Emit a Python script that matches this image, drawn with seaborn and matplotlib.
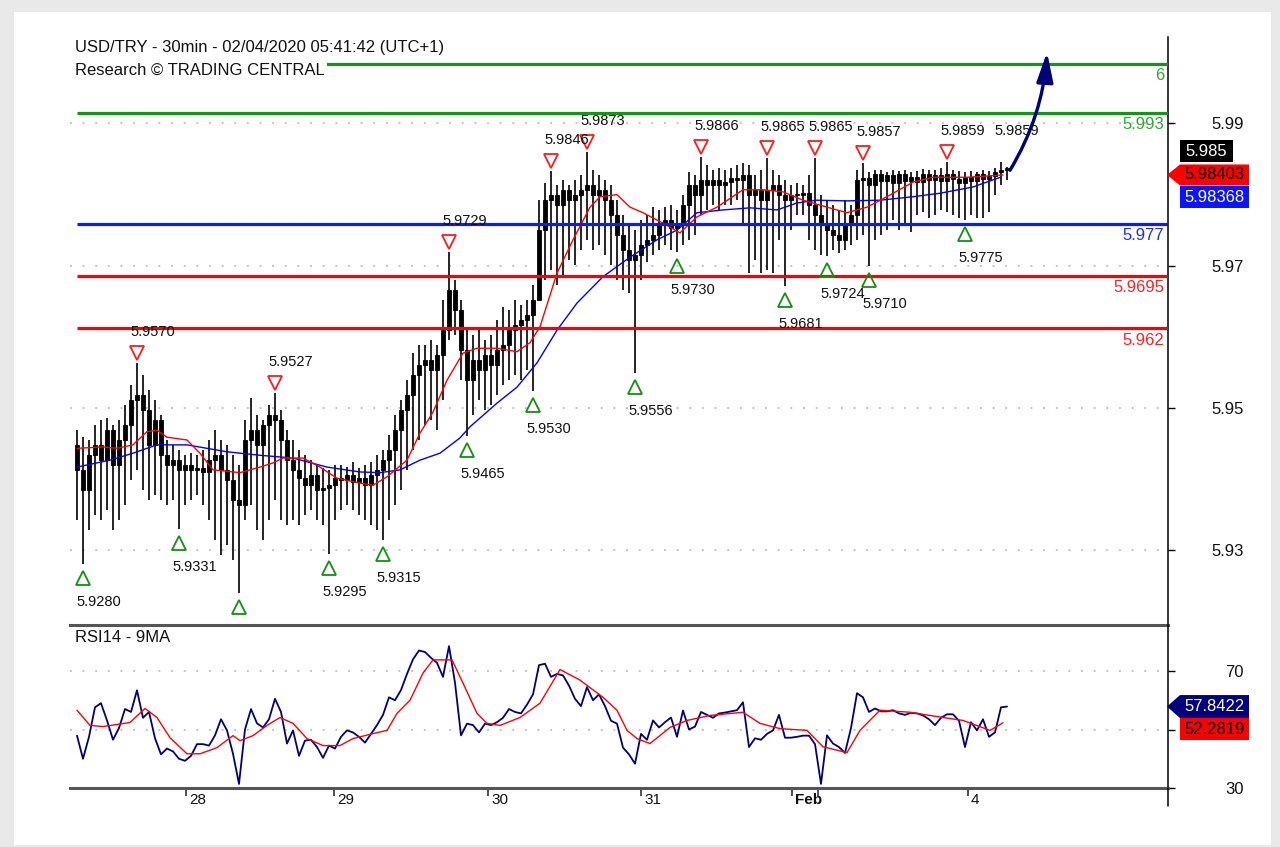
import numpy as np
import matplotlib
matplotlib.use("Agg")
import matplotlib.pyplot as plt
import matplotlib.transforms as mtransforms
from matplotlib.patches import Rectangle, Polygon
from matplotlib.lines import Line2D
import seaborn as sns

# ---------------- data ----------------
title_line1 = "USD/TRY - 30min - 02/04/2020 05:41:42 (UTC+1)"
title_line2 = "Research © TRADING CENTRAL"
rsi_title = "RSI14 - 9MA"

first_open = 5.9452
bar_high = [
    5.9473, 5.9463, 5.9459, 5.9481, 5.9488, 5.9491, 5.9481, 5.9488, 5.9509, 5.9538,
    5.9570, 5.9553, 5.9531, 5.9517, 5.9495, 5.9459, 5.9452, 5.9445, 5.9437, 5.9440,
    5.9437, 5.9445, 5.9459, 5.9473, 5.9459, 5.9452, 5.9437, 5.9423, 5.9488, 5.9519,
    5.9495, 5.9488, 5.9509, 5.9527, 5.9502, 5.9473, 5.9459, 5.9445, 5.9437, 5.9430,
    5.9423, 5.9419, 5.9416, 5.9423, 5.9423, 5.9420, 5.9427, 5.9419, 5.9423, 5.9427,
    5.9437, 5.9445, 5.9466, 5.9495, 5.9517, 5.9545, 5.9584, 5.9596, 5.9596, 5.9603,
    5.9596, 5.9660, 5.9729, 5.9689, 5.9660, 5.9617, 5.9610, 5.9617, 5.9603, 5.9610,
    5.9632, 5.9650, 5.9646, 5.9660, 5.9653, 5.9660, 5.9682, 5.9804, 5.9829, 5.9846,
    5.9826, 5.9833, 5.9826, 5.9833, 5.9840, 5.9873, 5.9847, 5.9840, 5.9833, 5.9826,
    5.9804, 5.9783, 5.9768, 5.9761, 5.9776, 5.9783, 5.9794, 5.9790, 5.9794, 5.9797,
    5.9790, 5.9812, 5.9845, 5.9840, 5.9866, 5.9855, 5.9847, 5.9850, 5.9847, 5.9850,
    5.9855, 5.9858, 5.9855, 5.9840, 5.9847, 5.9865, 5.9847, 5.9840, 5.9833, 5.9826,
    5.9829, 5.9826, 5.9840, 5.9865, 5.9812, 5.9804, 5.9797, 5.9790, 5.9804, 5.9797,
    5.9847, 5.9857, 5.9845, 5.9847, 5.9847, 5.9845, 5.9847, 5.9846, 5.9847, 5.9845,
    5.9846, 5.9849, 5.9847, 5.9847, 5.9850, 5.9859, 5.9847, 5.9846, 5.9845, 5.9846,
    5.9845, 5.9847, 5.9846, 5.9850, 5.9859, 5.9852]
bar_low = [
    5.9344, 5.9280, 5.9329, 5.9351, 5.9344, 5.9358, 5.9329, 5.9344, 5.9365, 5.9401,
    5.9416, 5.9387, 5.9373, 5.9380, 5.9373, 5.9365, 5.9373, 5.9331, 5.9365, 5.9373,
    5.9380, 5.9365, 5.9344, 5.9315, 5.9294, 5.9308, 5.9286, 5.9239, 5.9344, 5.9365,
    5.9329, 5.9315, 5.9344, 5.9373, 5.9344, 5.9337, 5.9344, 5.9337, 5.9351, 5.9358,
    5.9344, 5.9337, 5.9295, 5.9344, 5.9358, 5.9365, 5.9358, 5.9351, 5.9344, 5.9337,
    5.9329, 5.9315, 5.9344, 5.9365, 5.9387, 5.9416, 5.9445, 5.9459, 5.9481, 5.9488,
    5.9473, 5.9517, 5.9603, 5.9610, 5.9545, 5.9465, 5.9495, 5.9517, 5.9502, 5.9509,
    5.9524, 5.9538, 5.9545, 5.9553, 5.9545, 5.9560, 5.9530, 5.9660, 5.9689, 5.9704,
    5.9682, 5.9696, 5.9718, 5.9711, 5.9732, 5.9747, 5.9732, 5.9740, 5.9725, 5.9711,
    5.9689, 5.9675, 5.9671, 5.9556, 5.9689, 5.9715, 5.9725, 5.9732, 5.9740, 5.9732,
    5.9730, 5.9740, 5.9747, 5.9754, 5.9783, 5.9790, 5.9797, 5.9790, 5.9797, 5.9797,
    5.9804, 5.9768, 5.9699, 5.9718, 5.9699, 5.9704, 5.9699, 5.9747, 5.9681, 5.9761,
    5.9783, 5.9783, 5.9747, 5.9732, 5.9725, 5.9724, 5.9732, 5.9728, 5.9732, 5.9740,
    5.9747, 5.9754, 5.9710, 5.9747, 5.9754, 5.9761, 5.9776, 5.9761, 5.9768, 5.9758,
    5.9783, 5.9787, 5.9778, 5.9783, 5.9790, 5.9787, 5.9783, 5.9778, 5.9775, 5.9783,
    5.9778, 5.9778, 5.9787, 5.9812, 5.9826, 5.9833]
bar_close = [
    5.9416, 5.9387, 5.9437, 5.9452, 5.9430, 5.9473, 5.9423, 5.9459, 5.9481, 5.9517,
    5.9524, 5.9502, 5.9452, 5.9488, 5.9437, 5.9423, 5.9430, 5.9416, 5.9423, 5.9416,
    5.9419, 5.9413, 5.9430, 5.9437, 5.9416, 5.9401, 5.9373, 5.9365, 5.9459, 5.9473,
    5.9452, 5.9481, 5.9495, 5.9488, 5.9459, 5.9430, 5.9416, 5.9404, 5.9394, 5.9409,
    5.9387, 5.9390, 5.9394, 5.9404, 5.9401, 5.9409, 5.9399, 5.9404, 5.9394, 5.9409,
    5.9416, 5.9430, 5.9445, 5.9473, 5.9502, 5.9524, 5.9553, 5.9567, 5.9574, 5.9560,
    5.9581, 5.9617, 5.9675, 5.9646, 5.9588, 5.9545, 5.9574, 5.9560, 5.9581, 5.9567,
    5.9588, 5.9596, 5.9617, 5.9624, 5.9632, 5.9639, 5.9660, 5.9761, 5.9804, 5.9812,
    5.9797, 5.9819, 5.9804, 5.9812, 5.9819, 5.9826, 5.9812, 5.9819, 5.9804, 5.9783,
    5.9754, 5.9732, 5.9718, 5.9725, 5.9740, 5.9747, 5.9754, 5.9768, 5.9776, 5.9764,
    5.9768, 5.9797, 5.9826, 5.9812, 5.9833, 5.9826, 5.9833, 5.9826, 5.9830, 5.9836,
    5.9833, 5.9840, 5.9812, 5.9819, 5.9804, 5.9819, 5.9826, 5.9812, 5.9804, 5.9812,
    5.9812, 5.9814, 5.9797, 5.9783, 5.9768, 5.9761, 5.9754, 5.9747, 5.9768, 5.9783,
    5.9833, 5.9836, 5.9826, 5.9842, 5.9831, 5.9840, 5.9829, 5.9841, 5.9832, 5.9838,
    5.9830, 5.9842, 5.9833, 5.9840, 5.9831, 5.9841, 5.9834, 5.9829, 5.9838, 5.9832,
    5.9841, 5.9834, 5.9839, 5.9845, 5.9847, 5.9850]

# moving averages on price (sample position in bar units, value)
ma_fast_x = [0, 4.33, 6.67, 9.33, 11.67, 13.33, 15, 18.33, 20.5, 22.67,
             27.17, 30.5, 32.67, 34.33, 37.67, 40.5, 43.33, 47.17, 49.33, 51.67,
             55, 57.17, 59.33, 61.67, 64.33, 66.67, 70, 73.33, 75.5, 77.17,
             80, 82.67, 85.5, 87.17, 90, 92.17, 94.33, 97.67, 100.5, 103.33,
             106.67, 111, 114.33, 117.67, 121, 125, 128.33, 131.67, 135, 139.33,
             142.67, 148.33, 154.33]
ma_fast = [5.9447, 5.9449, 5.9447, 5.9452, 5.9471, 5.9473, 5.9463, 5.9459, 5.9440, 5.9416,
           5.9412, 5.9420, 5.9426, 5.9433, 5.9433, 5.9420, 5.9404, 5.9397, 5.9394, 5.9406,
           5.9430, 5.9469, 5.9499, 5.9545, 5.9584, 5.9591, 5.9591, 5.9586, 5.9599, 5.9622,
           5.9699, 5.9747, 5.9794, 5.9809, 5.9812, 5.9794, 5.9786, 5.9771, 5.9757, 5.9780,
           5.9794, 5.9819, 5.9819, 5.9816, 5.9804, 5.9794, 5.9786, 5.9794, 5.9809, 5.9830,
           5.9837, 5.9837, 5.98403]
ma_slow_x = [0, 5.5, 9.33, 13.33, 18.33, 25, 30.5, 36, 41.67, 47.17,
             50.5, 53.83, 57.17, 60.5, 63.83, 65.5, 70, 73.33, 76.67, 80,
             83.33, 87.67, 92.17, 96.67, 100, 103.33, 107.67, 112.17, 116.67, 120,
             123.33, 128.33, 133.83, 139.33, 143.83, 149.33, 153.83]
ma_slow = [5.9420, 5.9430, 5.9440, 5.9452, 5.9452, 5.9442, 5.9437, 5.9433, 5.9420, 5.9413,
           5.9412, 5.9416, 5.9430, 5.9440, 5.9462, 5.9478, 5.9512, 5.9535, 5.9570, 5.9617,
           5.9656, 5.9694, 5.9722, 5.9747, 5.9761, 5.9786, 5.9790, 5.9793, 5.9790, 5.9800,
           5.9804, 5.9803, 5.9804, 5.9809, 5.9814, 5.9823, 5.98368]

# RSI(14) per bar and its 9-period average
rsi = [
    47.9, 40.0, 47.5, 57.6, 59.0, 53.1, 46.5, 50.5, 57.0, 56.0,
    63.4, 54.0, 56.0, 47.0, 41.5, 43.5, 42.5, 40.0, 39.3, 41.0,
    45.0, 45.0, 44.5, 48.0, 53.5, 49.7, 41.7, 31.4, 50.0, 57.0,
    52.1, 50.7, 53.5, 60.5, 56.0, 45.2, 49.7, 41.0, 46.2, 46.5,
    44.0, 40.3, 44.5, 43.5, 47.5, 49.7, 49.0, 47.5, 45.5, 48.5,
    51.5, 55.0, 61.0, 60.0, 63.5, 69.0, 74.0, 77.0, 76.5, 74.5,
    72.8, 68.0, 78.5, 66.0, 48.0, 52.0, 51.5, 49.0, 52.0, 51.5,
    52.5, 54.0, 57.0, 56.0, 55.5, 58.5, 62.0, 72.0, 72.5, 68.0,
    69.0, 68.5, 65.0, 60.5, 58.0, 64.5, 60.0, 62.0, 58.0, 53.0,
    52.0, 43.8, 41.5, 38.3, 48.5, 46.5, 53.1, 50.7, 52.5, 54.1,
    47.5, 56.5, 50.0, 51.0, 56.0, 55.0, 54.0, 55.5, 55.8, 56.2,
    56.6, 59.3, 44.0, 47.0, 46.5, 48.5, 49.7, 55.0, 47.2, 47.2,
    47.5, 47.9, 47.9, 45.0, 31.4, 48.0, 45.2, 44.0, 42.0, 50.5,
    62.4, 61.0, 56.0, 57.2, 56.2, 56.2, 56.6, 55.5, 55.0, 55.7,
    55.5, 54.8, 53.5, 51.5, 54.0, 55.2, 55.2, 53.0, 44.0, 52.5,
    49.7, 53.5, 47.5, 49.0, 57.6, 57.8422]
rsi_ma_x = [0, 2.17, 4.33, 8.83, 11.33, 13.33, 15.5, 18.33, 20.5, 23.33,
            26, 27.17, 29.33, 31.67, 33.83, 36, 38.33, 41, 43.83, 46,
            49.33, 51.67, 53.33, 55.5, 57.67, 59.33, 62.5, 64.33, 66.67, 68.33,
            70.5, 73.83, 77.17, 80.5, 83.83, 87.67, 90, 91.67, 93.33, 95.5,
            98.83, 101.67, 105.5, 111, 113.83, 117.17, 121.67, 124.33, 128.33, 130.5,
            133.83, 138.83, 144.33, 147.67, 152.17, 154.33]
rsi_ma = [56.6, 51.4, 51.0, 52.4, 57.2, 54.1, 47.2, 41.7, 41.7, 43.8,
          47.9, 46.2, 47.9, 51.4, 54.1, 52.1, 46.9, 44.5, 44.5, 46.9,
          48.6, 49.7, 55.5, 60.0, 69.3, 73.8, 73.8, 65.9, 55.5, 52.1,
          51.4, 54.1, 59.0, 70.5, 66.9, 61.0, 56.6, 49.7, 46.9, 45.2,
          50.7, 53.1, 54.8, 55.9, 52.1, 50.3, 49.7, 44.1, 42.1, 49.7,
          56.6, 55.9, 54.1, 53.1, 49.7, 52.2819]

# pivots
high_piv_idx = [10, 33, 62, 79, 85, 104, 115, 123, 131, 145, 154]
high_piv_val = [5.9570, 5.9527, 5.9729, 5.9846, 5.9873, 5.9866, 5.9865, 5.9865, 5.9857, 5.9859, 5.9859]
high_piv_marker = [True] * 10 + [False]
low_piv_idx = [1, 17, 27, 42, 51, 65, 76, 93, 100, 118, 125, 132, 148]
low_piv_val = [5.9280, 5.9331, 5.9239, 5.9295, 5.9315, 5.9465, 5.9530, 5.9556, 5.9730, 5.9681, 5.9724, 5.9710, 5.9775]
low_piv_label = ["5.9280", "5.9331", "", "5.9295", "5.9315", "5.9465", "5.9530", "5.9556",
                 "5.9730", "5.9681", "5.9724", "5.9710", "5.9775"]

# key levels
levels = [6.0, 5.993, 5.977, 5.9695, 5.962]
level_labels = ["6", "5.993", "5.977", "5.9695", "5.962"]
level_colors = ["#139613", "#139613", "#0a1cff", "#ff0000", "#ff0000"]
level_text_colors = ["#2fa82f", "#2fa82f", "#1a2cff", "#ff2020", "#ff2020"]

# forecast arrow (bar position, price)
arrow_start = (155.5, 5.9847)
arrow_end = (161.67, 6.0017)

# axis ticks
price_ticks = [5.9300, 5.9505, 5.9710, 5.9915]
price_tick_labels = ["5.93", "5.95", "5.97", "5.99"]
rsi_ticks = [30, 50, 70]
rsi_tick_labels = ["30", "", "70"]
day_tick_pos = [18.17, 42.83, 68.5, 94.0, 119.17, 123.5, 148.5]
day_tick_labels = ["28", "29", "30", "31", "Feb", "", "4"]

last_price = 5.985
ma_fast_last = 5.98403
ma_slow_last = 5.98368
rsi_last = 57.8422
rsi_ma_last = 52.2819

# ---------------- style ----------------
sns.set_style("white")
plt.rcParams['font.family'] = ['Liberation Sans', 'DejaVu Sans']

W, H = 1280, 847
fig = plt.figure(figsize=(W / 100, H / 100), dpi=100)
fig.patch.set_facecolor('#e9e9e9')
fig.add_artist(Rectangle((14 / W, 1 - 845 / H), (1271 - 14) / W, (845 - 12) / H,
                         transform=fig.transFigure, fc='white', ec='none', zorder=-10))

ax = fig.add_axes([70 / W, 1 - 625 / H, 1098 / W, 588 / H])
axr = fig.add_axes([70 / W, 1 - 788 / H, 1098 / W, 163 / H])
for a in (ax, axr):
    a.set_facecolor('none')

n = len(bar_close)
idx = np.arange(n)
closes = np.array(bar_close)
opens = np.array([first_open] + bar_close[:-1])
highs = np.array(bar_high)
lows = np.array(bar_low)

XMIN, XMAX = -7 / 6, 1091 / 6

# grid
for t in price_ticks:
    ax.axhline(t, color='#bcbcbc', lw=1.3, ls=(0, (1, 6)), zorder=1)
for t in [50, 70]:
    axr.axhline(t, color='#bcbcbc', lw=1.3, ls=(0, (1, 6)), zorder=1)

# candles (dense black bars as in the reference)
ax.vlines(idx, lows, highs, color='black', lw=1.2, zorder=3)
bottoms = np.minimum(opens, closes)
heights = np.maximum(np.abs(closes - opens), 0.00012)
ax.bar(idx, heights, bottom=bottoms, width=0.8, color='black',
       edgecolor='black', lw=0.6, zorder=4)

# moving averages
sns.lineplot(x=ma_slow_x, y=ma_slow, ax=ax, color='#0000ff', linewidth=1.0,
             estimator=None, sort=False, zorder=5)
sns.lineplot(x=ma_fast_x, y=ma_fast, ax=ax, color='#ff0000', linewidth=1.0,
             estimator=None, sort=False, zorder=5)

# levels
ax.hlines(levels, 0, XMAX, colors=level_colors, linewidth=2.3, zorder=6)
for v, lab, c in zip(levels, level_labels, level_text_colors):
    ax.annotate(lab, xy=(1, v), xycoords=('axes fraction', 'data'), xytext=(-4, -12),
                textcoords='offset pixels', ha='right', va='center', fontsize=12,
                color=c, zorder=8)

# pivots
tr_hi = mtransforms.offset_copy(ax.transData, fig=fig, x=0, y=10, units='dots')
tr_lo = mtransforms.offset_copy(ax.transData, fig=fig, x=0, y=-14, units='dots')
hx = [i for i, s in zip(high_piv_idx, high_piv_marker) if s]
hy = [v for v, s in zip(high_piv_val, high_piv_marker) if s]
ax.plot(hx, hy, ls='none', marker='v', ms=10.5, mfc='none', mec='#ff1a1a', mew=1.3,
        transform=tr_hi, zorder=7)
ax.plot(low_piv_idx, low_piv_val, ls='none', marker='^', ms=10.5, mfc='none',
        mec='#138f13', mew=1.3, transform=tr_lo, zorder=7)
for i, v in zip(high_piv_idx, high_piv_val):
    ax.annotate(f"{v:.4f}", xy=(i, v), xytext=(-7, 31), textcoords='offset pixels',
                ha='left', va='center', fontsize=10.5, color='#111111', zorder=9)
for i, v, lab in zip(low_piv_idx, low_piv_val, low_piv_label):
    if lab:
        ax.annotate(lab, xy=(i, v), xytext=(-7, -38), textcoords='offset pixels',
                    ha='left', va='center', fontsize=10.5, color='#111111', zorder=9)

# forecast arrow
ax.annotate('', xy=arrow_end, xytext=arrow_start,
            arrowprops=dict(arrowstyle='-|>,head_length=1.8,head_width=0.5',
                            mutation_scale=10, color='#00007a', lw=2.4,
                            shrinkA=0, shrinkB=0, connectionstyle='arc3,rad=0.12'),
            zorder=9)

# titles
ax.annotate(title_line1, xy=(0, 1), xycoords='axes fraction', xytext=(5, -10),
            textcoords='offset pixels', ha='left', va='center', fontsize=12,
            color='#111111', zorder=10)
ax.annotate(title_line2, xy=(0, 1), xycoords='axes fraction', xytext=(5, -33),
            textcoords='offset pixels', ha='left', va='center', fontsize=12,
            color='#111111', zorder=10,
            bbox=dict(boxstyle='square,pad=0.12', fc='white', ec='none'))
axr.annotate(rsi_title, xy=(0, 1), xycoords='axes fraction', xytext=(5, -12),
             textcoords='offset pixels', ha='left', va='center', fontsize=12,
             color='#111111', zorder=10)

# RSI
sns.lineplot(x=idx, y=rsi, ax=axr, color='#00007f', linewidth=1.3,
             estimator=None, sort=False, zorder=4)
sns.lineplot(x=rsi_ma_x, y=rsi_ma, ax=axr, color='#ff0000', linewidth=1.0,
             estimator=None, sort=False, zorder=5)

# axes setup
ax.set_xlim(XMIN, XMAX)
ax.set_ylim(5.91928, 6.00388)
axr.set_xlim(XMIN, XMAX)
axr.set_ylim(30, 85.73)
for a in (ax, axr):
    a.set_xlabel('')
    a.set_ylabel('')
    a.spines['top'].set_visible(False)
    a.spines['left'].set_visible(False)
    a.spines['right'].set_visible(True)
    a.spines['right'].set_color('black')
    a.spines['right'].set_linewidth(1.1)
    a.spines['bottom'].set_visible(True)
    a.spines['bottom'].set_color('#555555')
    a.spines['bottom'].set_linewidth(2.2)
    a.yaxis.tick_right()

ax.set_xticks([])
ax.set_yticks(price_ticks, price_tick_labels)
axr.set_yticks(rsi_ticks, rsi_tick_labels)
for a in (ax, axr):
    a.tick_params(axis='y', which='both', direction='out', length=5, width=1,
                  color='black', pad=49.5, labelsize=12, labelcolor='#111111',
                  right=True, left=False, labelright=True, labelleft=False)
    for t in a.get_yticklabels():
        t.set_horizontalalignment('right')

axr.set_xticks(day_tick_pos)
axr.set_xticklabels([])
axr.tick_params(axis='x', direction='out', length=6, width=1.2, color='#333333',
                bottom=True, labelbottom=False)
for pos, lab in zip(day_tick_pos, day_tick_labels):
    axr.annotate(lab, xy=(pos, 0), xycoords=('data', 'axes fraction'), xytext=(3, -12),
                 textcoords='offset pixels', ha='left', va='center', fontsize=11,
                 fontweight='bold' if lab == 'Feb' else 'normal', color='#111111',
                 annotation_clip=False)

fig.add_artist(Line2D([1168 / W, 1168 / W], [1 - 788 / H, 1 - 806 / H],
                      transform=fig.transFigure, color='black', lw=1.1))

# value boxes on the right
def fx(x):
    return x / W


def fy(yd):
    return yd / H


def add_box(pts, color, text, tcolor):
    fig.add_artist(Polygon([(fx(x), fy(y)) for x, y in pts], closed=True,
                           transform=fig.transFigure, fc=color, ec='none', zorder=20))
    xs = [p[0] for p in pts]
    ys = [p[1] for p in pts]
    x0 = max(min(xs), 1180)
    fig.text(fx((x0 + max(xs)) / 2), fy((min(ys) + max(ys)) / 2), text,
             ha='center', va='center', fontsize=12, color=tcolor, zorder=21)


yc = ax.transData.transform((0, ma_fast_last))[1]
h = 21
add_box([(1167, yc), (1180, yc + h / 2), (1249, yc + h / 2), (1249, yc - h / 2),
         (1180, yc - h / 2)], '#ff0000', f"{ma_fast_last:.5f}", '#000000')
add_box([(1180, yc - h / 2 - 1), (1249, yc - h / 2 - 1), (1249, yc - h / 2 - 23),
         (1180, yc - h / 2 - 23)], '#0a14ff', f"{ma_slow_last:.5f}", '#ffffff')
add_box([(1180, yc + h / 2 + 2), (1233, yc + h / 2 + 2), (1233, yc + h / 2 + 24),
         (1180, yc + h / 2 + 24)], '#000000', f"{last_price:.3f}", '#ffffff')

yr = axr.transData.transform((0, rsi_last))[1]
h2 = 23
add_box([(1167, yr), (1180, yr + h2 / 2), (1249, yr + h2 / 2), (1249, yr - h2 / 2),
         (1180, yr - h2 / 2)], '#000080', f"{rsi_last:.4f}", '#ffffff')
add_box([(1180, yr - h2 / 2), (1249, yr - h2 / 2), (1249, yr - h2 / 2 - 22),
         (1180, yr - h2 / 2 - 22)], '#ff0000', f"{rsi_ma_last:.4f}", '#000000')

fig.savefig('out.png', dpi=100, facecolor=fig.get_facecolor())
